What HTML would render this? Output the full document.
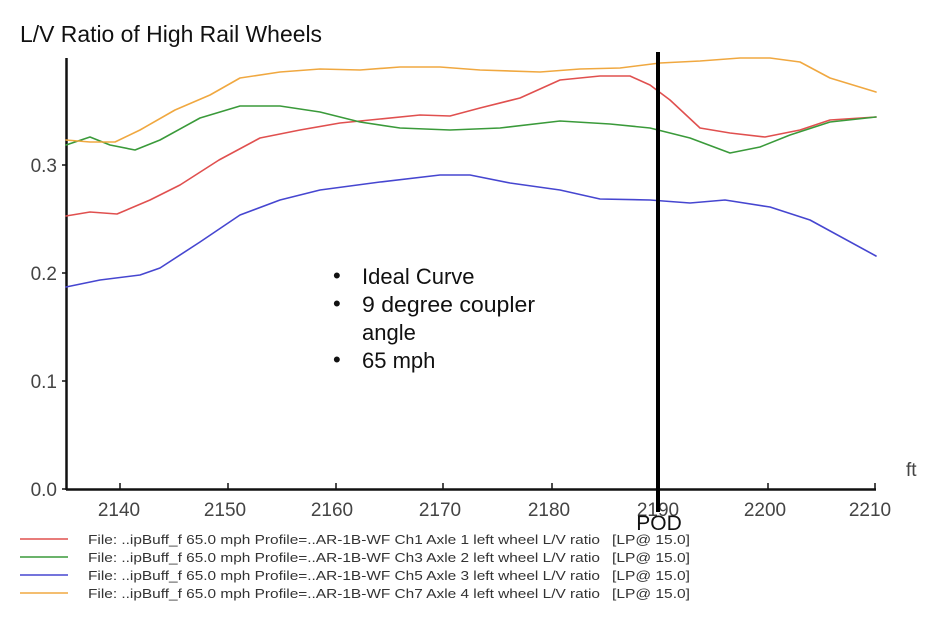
<!DOCTYPE html>
<html><head><meta charset="utf-8"><style>
body{margin:0;background:#fff;width:934px;height:622px;overflow:hidden}
svg{display:block}
text{font-family:"Liberation Sans",Arial,sans-serif}
</style></head><body>
<svg width="934" height="622" viewBox="0 0 934 622">
<text x="20" y="42" font-size="23" fill="#111" textLength="302" lengthAdjust="spacingAndGlyphs">L/V Ratio of High Rail Wheels</text>
<g stroke="#111" stroke-width="2.5" fill="none">
<line x1="66.5" y1="58" x2="66.5" y2="490"/>
<line x1="66" y1="489.5" x2="876" y2="489.5"/>
</g>
<g stroke="#111" stroke-width="1.5">
<line x1="62" y1="165" x2="67" y2="165"/><line x1="62" y1="273" x2="67" y2="273"/><line x1="62" y1="381" x2="67" y2="381"/><line x1="62" y1="489" x2="67" y2="489"/>
<line x1="120" y1="483" x2="120" y2="489"/><line x1="228" y1="483" x2="228" y2="489"/><line x1="336" y1="483" x2="336" y2="489"/><line x1="443" y1="483" x2="443" y2="489"/><line x1="552" y1="483" x2="552" y2="489"/><line x1="768" y1="483" x2="768" y2="489"/><line x1="875" y1="483" x2="875" y2="489"/>
</g>
<g font-size="19" fill="#444" text-anchor="end">
<text x="57" y="172">0.3</text><text x="57" y="280">0.2</text><text x="57" y="388">0.1</text><text x="57" y="496">0.0</text>
</g>
<g font-size="19" fill="#444" text-anchor="middle">
<text x="119" y="516">2140</text><text x="225" y="516">2150</text><text x="332" y="516">2160</text><text x="440" y="516">2170</text><text x="549" y="516">2180</text><text x="658" y="516">2190</text><text x="765" y="516">2200</text><text x="870" y="516">2210</text>
</g>
<text x="906" y="476" font-size="19" fill="#444">ft</text>
<g fill="none" stroke-width="1.6" stroke-linejoin="round" stroke-linecap="round">
<polyline stroke="#e0504f" points="66,216 90,212 117,214 150,200 180,185 219,160 260,138 300,130 340,123 380,119 420,115 450,116 480,108 520,98 560,80 600,76 630,76 650,85 670,100 700,128 730,133 765,137 800,130 830,120 876,117"/>
<polyline stroke="#3a9a3a" points="66,145 90,137 110,145 135,150 160,140 200,118 240,106 280,106 320,112 360,122 400,128 450,130 500,128 560,121 610,124 650,128 690,138 730,153 760,147 790,135 830,122 876,117"/>
<polyline stroke="#4646d0" points="66,287 100,280 140,275 160,268 200,242 240,215 280,200 320,190 380,182 440,175 470,175 510,183 560,190 600,199 650,200 690,203 725,200 770,207 810,220 876,256"/>
<polyline stroke="#f0a840" points="66,140 90,142 115,142 140,130 175,110 210,95 240,78 280,72 320,69 360,70 400,67 440,67 480,70 540,72 580,69 620,68 660,63 700,61 740,58 770,58 800,62 830,78 876,92"/>
</g>
<line x1="658" y1="52" x2="658" y2="512" stroke="#000" stroke-width="4"/>
<text x="659" y="530" font-size="21" fill="#111" text-anchor="middle">POD</text>
<g font-size="22" fill="#111">
<text x="333" y="283">•</text><text x="362" y="284">Ideal Curve</text>
<text x="333" y="311">•</text><text x="362" y="312" textLength="173" lengthAdjust="spacingAndGlyphs">9 degree coupler</text>
<text x="362" y="340">angle</text>
<text x="333" y="367">•</text><text x="362" y="368">65 mph</text>
</g>
<g stroke-width="1.6">
<line x1="20" y1="539" x2="68" y2="539" stroke="#e0504f"/>
<line x1="20" y1="557" x2="68" y2="557" stroke="#3a9a3a"/>
<line x1="20" y1="575" x2="68" y2="575" stroke="#4646d0"/>
<line x1="20" y1="593" x2="68" y2="593" stroke="#f0a840"/>
</g>
<g font-size="13" fill="#333">
<text x="88" y="544" textLength="512" lengthAdjust="spacingAndGlyphs">File: ..ipBuff_f 65.0 mph Profile=..AR-1B-WF Ch1 Axle 1 left wheel L/V ratio</text>
<text x="88" y="562" textLength="512" lengthAdjust="spacingAndGlyphs">File: ..ipBuff_f 65.0 mph Profile=..AR-1B-WF Ch3 Axle 2 left wheel L/V ratio</text>
<text x="88" y="580" textLength="512" lengthAdjust="spacingAndGlyphs">File: ..ipBuff_f 65.0 mph Profile=..AR-1B-WF Ch5 Axle 3 left wheel L/V ratio</text>
<text x="88" y="598" textLength="512" lengthAdjust="spacingAndGlyphs">File: ..ipBuff_f 65.0 mph Profile=..AR-1B-WF Ch7 Axle 4 left wheel L/V ratio</text>
<text x="612" y="544" textLength="78" lengthAdjust="spacingAndGlyphs">[LP@ 15.0]</text>
<text x="612" y="562" textLength="78" lengthAdjust="spacingAndGlyphs">[LP@ 15.0]</text>
<text x="612" y="580" textLength="78" lengthAdjust="spacingAndGlyphs">[LP@ 15.0]</text>
<text x="612" y="598" textLength="78" lengthAdjust="spacingAndGlyphs">[LP@ 15.0]</text>
</g>
</svg>
</body></html>
